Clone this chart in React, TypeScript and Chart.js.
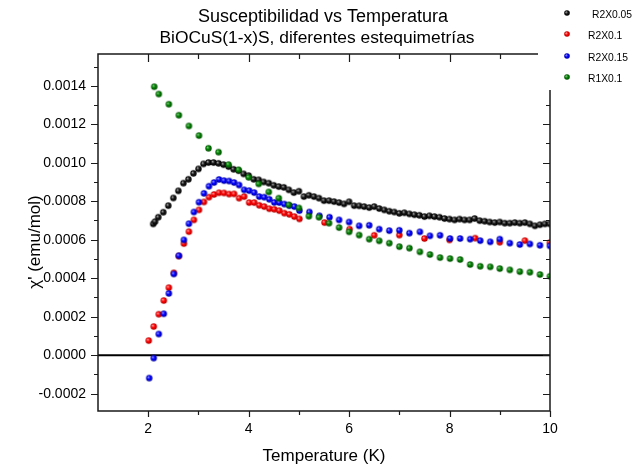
import React, { useEffect, useRef } from "react";
import { Chart, registerables } from "chart.js";

Chart.register(...registerables);

const chartTitle = ["Susceptibilidad vs Temperatura", "BiOCuS(1-x)S, diferentes estequimetrías"];
const xTitle = "Temperature (K)";
const yTitle = "χ' (emu/mol)";
const seriesNames = ["R2X0.05", "R2X0.1", "R2X0.15", "R1X0.1"];

const xMajorTicks = [2, 4, 6, 8, 10];
const xMinorTicks = [3, 5, 7, 9];
const yMajorTicks = [-0.0002, 0, 0.0002, 0.0004, 0.0006, 0.0008, 0.001, 0.0012, 0.0014];
const yMinorTicks = [-0.0001, 0.0001, 0.0003, 0.0005, 0.0007, 0.0009, 0.0011, 0.0013, 0.0015];

const blackT = [2.1, 2.135, 2.2, 2.3, 2.4, 2.5, 2.6, 2.7, 2.8, 2.9, 3.0, 3.1, 3.2, 3.3, 3.4, 3.5, 3.6, 3.7, 3.8, 3.9,
  4.0, 4.1, 4.2, 4.3, 4.4, 4.5, 4.6, 4.7, 4.8, 4.9, 5.0, 5.1, 5.2, 5.3, 5.4, 5.5, 5.6, 5.7, 5.8, 5.9,
  6.0, 6.1, 6.2, 6.3, 6.4, 6.5, 6.6, 6.7, 6.8, 6.9, 7.0, 7.1, 7.2, 7.3, 7.4, 7.5, 7.6, 7.7, 7.8, 7.9,
  8.0, 8.1, 8.2, 8.3, 8.4, 8.5, 8.6, 8.7, 8.8, 8.9, 9.0, 9.1, 9.2, 9.3, 9.4, 9.5, 9.6, 9.7, 9.8, 9.9, 10.0];
const blackChi = [0.000682, 0.000694, 0.000717, 0.000743, 0.000777, 0.000817, 0.000854, 0.000894, 0.000914, 0.000945,
  0.000968, 0.000994, 0.001001, 0.001001, 0.000997, 0.00099, 0.00098, 0.000966, 0.000959, 0.000942,
  0.000933, 0.000914, 0.000911, 0.0009, 0.000894, 0.000883, 0.000876, 0.000872, 0.000859, 0.000845,
  0.000852, 0.000824, 0.000831, 0.000824, 0.000816, 0.000803, 0.000803, 0.000798, 0.000793, 0.000786,
  0.000797, 0.000777, 0.000776, 0.000772, 0.000767, 0.000772, 0.000762, 0.000755, 0.000748, 0.000744,
  0.000737, 0.00074, 0.000734, 0.00073, 0.000727, 0.00072, 0.000724, 0.00072, 0.000717, 0.00071,
  0.000707, 0.000703, 0.000707, 0.000703, 0.000703, 0.00071, 0.000699, 0.000696, 0.000692, 0.000689,
  0.000692, 0.000686, 0.000686, 0.000689, 0.000686, 0.000689, 0.000682, 0.000672, 0.000678, 0.000682, 0.000682];

const redT = [2.01, 2.11, 2.21, 2.31, 2.41, 2.51, 2.61, 2.71, 2.81, 2.91, 3.01, 3.11, 3.21, 3.31, 3.41, 3.51,
  3.61, 3.71, 3.81, 3.91, 4.01, 4.11, 4.21, 4.31, 4.41, 4.51, 4.61, 4.71, 4.81, 4.91, 5.01,
  5.51, 6.01, 6.5, 7.0, 7.5, 8.0, 8.51, 9.0, 9.5, 10.0];
const redChi = [0.0000758, 0.000149, 0.000213, 0.000284, 0.000351, 0.000428, 0.000515, 0.00058, 0.000642, 0.000703,
  0.000755, 0.000796, 0.000821, 0.000835, 0.000844, 0.000843, 0.000837, 0.000838, 0.000816, 0.000824,
  0.000793, 0.000793, 0.000779, 0.000772, 0.000761, 0.000758, 0.000751, 0.000738, 0.000732, 0.00072, 0.000708,
  0.000689, 0.000655, 0.000623, 0.000624, 0.000606, 0.000599, 0.000608, 0.000587, 0.000595, 0.000585];

const blueT = [2.02, 2.11, 2.21, 2.31, 2.41, 2.51, 2.61, 2.71, 2.81, 2.91, 3.01, 3.11, 3.21, 3.31, 3.41, 3.51,
  3.61, 3.71, 3.81, 3.91, 4.01, 4.11, 4.21, 4.31, 4.41, 4.51, 4.61, 4.71, 4.81, 4.91, 5.01,
  5.21, 5.41, 5.61, 5.8, 6.0, 6.2, 6.4, 6.6, 6.8, 7.0, 7.2, 7.41, 7.61, 7.81, 8.01, 8.21, 8.41, 8.61, 8.81,
  9.0, 9.2, 9.4, 9.6, 9.8, 10.0];
const blueChi = [-0.000119, -0.0000151, 0.00011, 0.000215, 0.000321, 0.000422, 0.000517, 0.000599, 0.000683, 0.000744,
  0.000795, 0.000841, 0.000878, 0.000897, 0.000913, 0.000907, 0.000905, 0.000897, 0.000884, 0.000859,
  0.000855, 0.000845, 0.000824, 0.000821, 0.00081, 0.000794, 0.000793, 0.000785, 0.000777, 0.000772, 0.000751,
  0.000744, 0.000724, 0.000717, 0.000703, 0.000692, 0.000672, 0.000675, 0.000655, 0.000647, 0.000649,
  0.000634, 0.000641, 0.00062, 0.000623, 0.000606, 0.000606, 0.000603, 0.000595, 0.000589, 0.000603,
  0.000582, 0.000575, 0.000578, 0.000571, 0.000568];

const greenT = [2.12, 2.21, 2.41, 2.61, 2.81, 3.01, 3.2, 3.4, 3.6, 3.8, 4.0, 4.2, 4.4, 4.6, 4.8, 5.0, 5.2, 5.4,
  5.6, 5.8, 6.0, 6.2, 6.4, 6.6, 6.8, 7.0, 7.2, 7.41, 7.61, 7.81, 8.01, 8.21, 8.41, 8.61, 8.81, 9.0, 9.2,
  9.4, 9.6, 9.8, 10.0];
const greenChi = [0.001395, 0.001357, 0.001304, 0.001247, 0.001191, 0.001141, 0.001075, 0.001055, 0.00099, 0.000963,
  0.000924, 0.00089, 0.000848, 0.000816, 0.000781, 0.000765, 0.000722, 0.000717, 0.000686, 0.000663,
  0.000641, 0.000624, 0.000603, 0.000594, 0.000582, 0.000564, 0.000556, 0.000537, 0.000523, 0.000507,
  0.000502, 0.000497, 0.000471, 0.000462, 0.000459, 0.00045, 0.000443, 0.000434, 0.000431, 0.000419, 0.00041];

const seriesT = [blackT, redT, blueT, greenT];
const seriesChi = [blackChi, redChi, blueChi, greenChi];
const seriesColors = [
  ["#a0a0a0", "#151515", "#000000"],
  ["#ffa0a0", "#ff0000", "#b00000"],
  ["#9898ff", "#0000ff", "#0000a0"],
  ["#80c880", "#008000", "#004c00"],
];

const FONT = '"Liberation Sans", Arial, sans-serif';

function makeSphere(cols: string[], r: number) {
  const size = Math.ceil(r * 2 + 2);
  const c = document.createElement("canvas");
  c.width = size;
  c.height = size;
  const ctx = c.getContext("2d")!;
  const cx = size / 2;
  const g = ctx.createRadialGradient(cx - r * 0.35, cx - r * 0.35, 0.2, cx, cx, r);
  g.addColorStop(0, cols[0]);
  g.addColorStop(0.5, cols[1]);
  g.addColorStop(1, cols[2]);
  ctx.fillStyle = g;
  ctx.beginPath();
  ctx.arc(cx, cx, r, 0, Math.PI * 2);
  ctx.fill();
  return c;
}

export default function App() {
  const ref = useRef<HTMLCanvasElement>(null);
  useEffect(() => {
    const canvas = ref.current!;
    const sprites = seriesColors.map((c) => makeSphere(c, 3.2));
    const legendSprites = seriesColors.map((c) => makeSphere(c, 2.8));

    const framePlugin = {
      id: "frame",
      beforeDatasetsDraw(chart: any) {
        const ctx = chart.ctx;
        const { left, right } = chart.chartArea;
        const y0 = chart.scales.y.getPixelForValue(0);
        ctx.save();
        ctx.strokeStyle = "#000";
        ctx.lineWidth = 2;
        ctx.beginPath();
        ctx.moveTo(left, y0);
        ctx.lineTo(right, y0);
        ctx.stroke();
        ctx.restore();
      },
      afterDraw(chart: any) {
        const ctx = chart.ctx;
        const { left, right, top, bottom } = chart.chartArea;
        const xs = chart.scales.x;
        const ys = chart.scales.y;
        ctx.save();
        ctx.strokeStyle = "#1a1a1a";
        ctx.lineWidth = 1.5;
        ctx.beginPath();
        ctx.rect(left, top, right - left, bottom - top);
        ctx.stroke();
        ctx.lineWidth = 1.2;
        ctx.beginPath();
        const tickX = (v: number, major: boolean) => {
          const p = Math.round(xs.getPixelForValue(v)) + 0.5;
          ctx.moveTo(p, bottom);
          ctx.lineTo(p, bottom + (major ? 6 : 4));
          ctx.moveTo(p, top);
          ctx.lineTo(p, top + (major ? 8 : 5));
        };
        const tickY = (v: number, major: boolean) => {
          const p = Math.round(ys.getPixelForValue(v)) + 0.5;
          ctx.moveTo(left, p);
          ctx.lineTo(left - (major ? 7 : 4), p);
          ctx.moveTo(right, p);
          ctx.lineTo(right - (major ? 7 : 4), p);
        };
        xMajorTicks.forEach((v) => tickX(v, true));
        xMinorTicks.forEach((v) => tickX(v, false));
        yMajorTicks.forEach((v) => tickY(v, true));
        yMinorTicks.forEach((v) => tickY(v, false));
        ctx.stroke();

        ctx.fillStyle = "#000";
        ctx.font = `14px ${FONT}`;
        ctx.textAlign = "center";
        ctx.textBaseline = "middle";
        xMajorTicks.forEach((v) => ctx.fillText(String(v), xs.getPixelForValue(v), bottom + 18));
        ctx.textAlign = "right";
        yMajorTicks.forEach((v) => ctx.fillText(v.toFixed(4), left - 12, ys.getPixelForValue(v)));

        ctx.font = `17px ${FONT}`;
        ctx.textAlign = "center";
        ctx.fillText(xTitle, (left + right) / 2, bottom + 45);
        ctx.save();
        ctx.translate(35, 242);
        ctx.rotate(-Math.PI / 2);
        ctx.fillText(yTitle, 0, 0);
        ctx.restore();

        ctx.font = `18px ${FONT}`;
        ctx.fillText(chartTitle[0], 323, 17);
        ctx.font = `17.4px ${FONT}`;
        ctx.fillText(chartTitle[1], 317, 38);

        // legend box
        ctx.fillStyle = "#fff";
        ctx.fillRect(right - 12, 0, 633 - (right - 12), 90);
        ctx.fillStyle = "#000";
        ctx.font = `10.3px ${FONT}`;
        ctx.textAlign = "left";
        const rowsY = [14, 35, 57, 78];
        seriesNames.forEach((name, i) => {
          const s = legendSprites[i];
          ctx.drawImage(s, 567 - s.width / 2, rowsY[i] - 1 - s.height / 2);
          ctx.fillText(name, i === 0 ? 592 : 588, rowsY[i] + 1);
        });
        ctx.restore();
      },
    };

    const datasets = seriesNames.map((name, i) => ({
      label: name,
      data: seriesT[i].map((t, k) => ({ x: t, y: seriesChi[i][k] })),
      pointStyle: sprites[i],
      showLine: false,
      clip: 0,
      order: 3 - i,
    }));

    const chart = new Chart(canvas, {
      type: "scatter",
      data: { datasets },
      options: {
        animation: false,
        responsive: false,
        devicePixelRatio: 1,
        layout: { padding: { left: 98, right: 83, top: 54, bottom: 57 } },
        scales: {
          x: { type: "linear", min: 1, max: 10, display: false },
          y: { type: "linear", min: -0.00029, max: 0.001565, display: false },
        },
        plugins: { legend: { display: false }, title: { display: false }, tooltip: { enabled: false } },
      },
      plugins: [framePlugin],
    });
    return () => chart.destroy();
  }, []);

  return (
    <canvas
      ref={ref}
      width={633}
      height={468}
      style={{ position: "fixed", left: 0, top: 0, width: 633, height: 468, background: "#fff" }}
    />
  );
}
